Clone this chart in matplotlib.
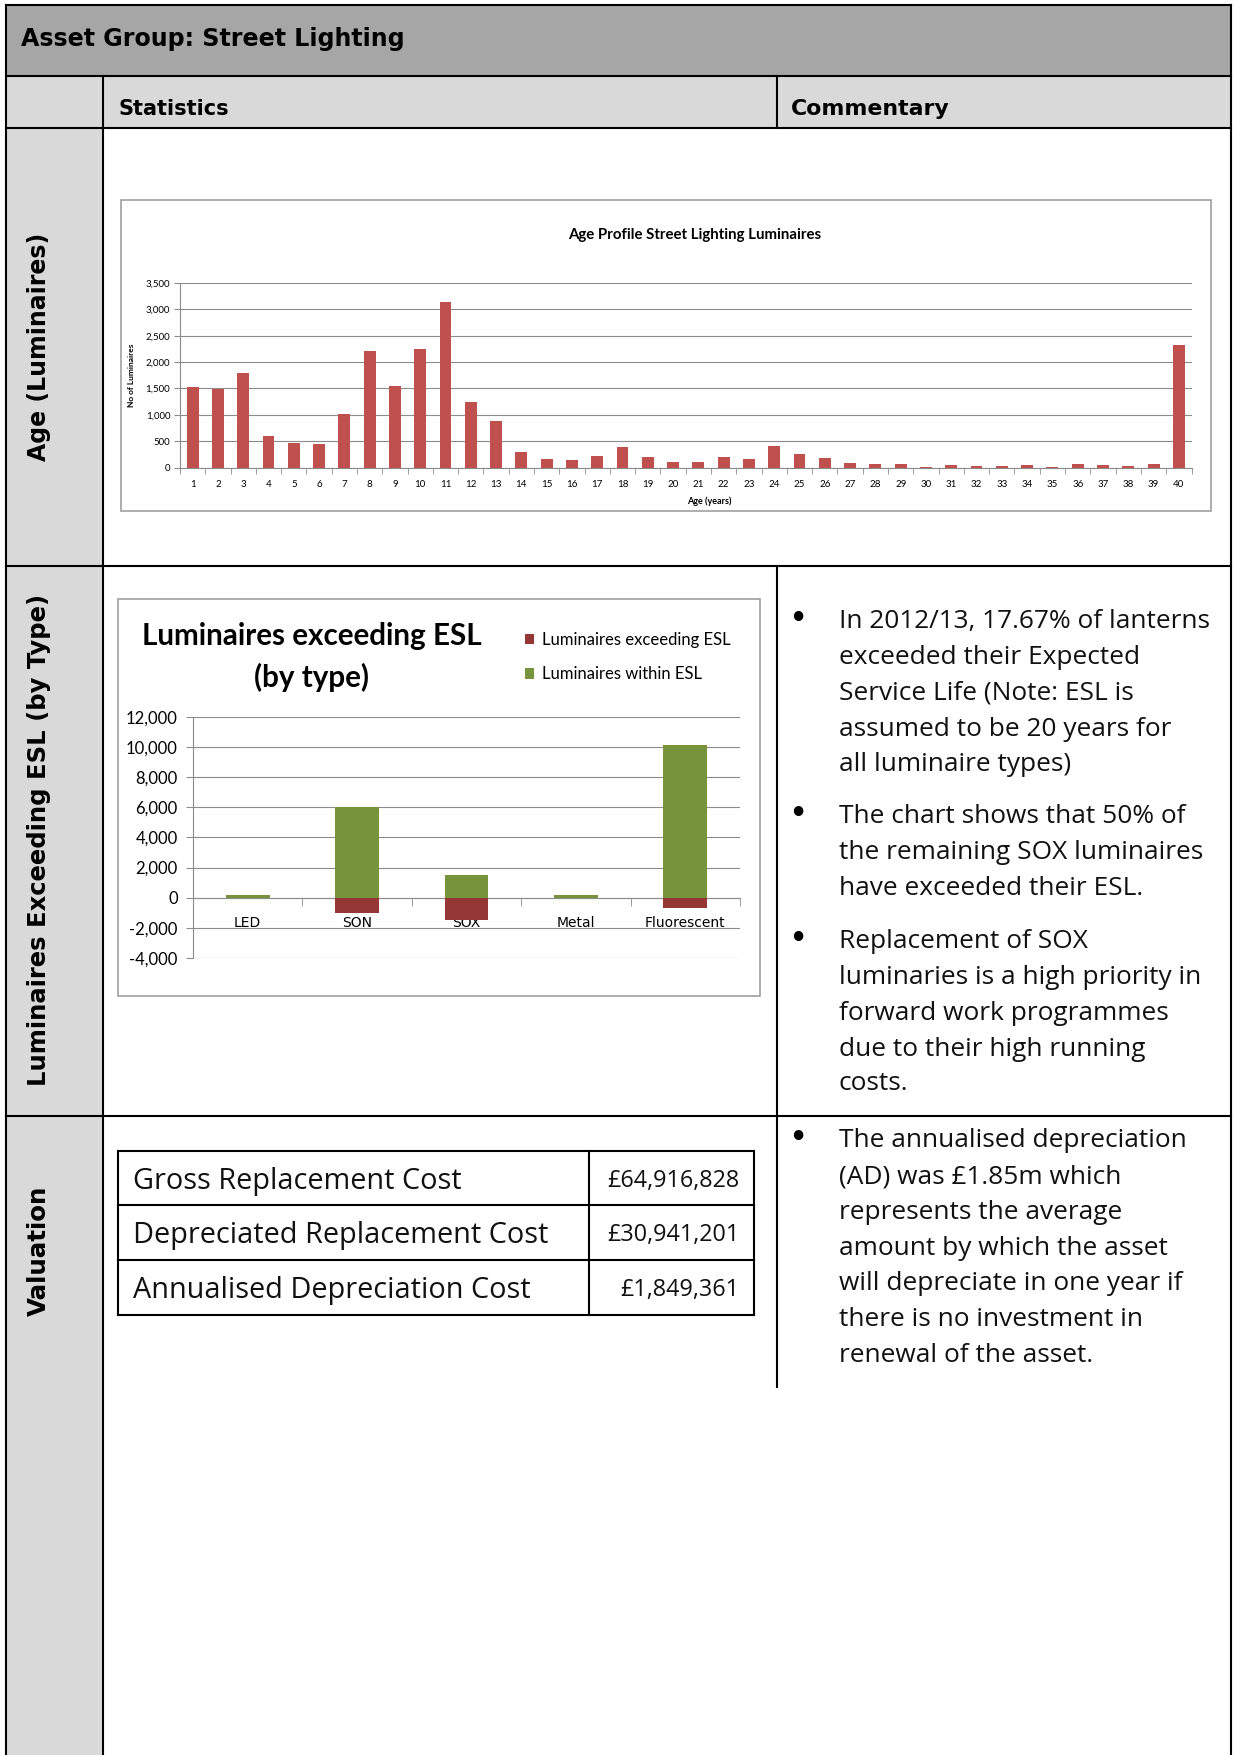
import matplotlib
matplotlib.use('Agg')
import matplotlib.pyplot as plt
from matplotlib.patches import Rectangle
import numpy as np

W, H = 1234, 1755

# ---------------- data ----------------
ages = list(range(1, 41))
age_counts = [1535, 1497, 1800, 607, 474, 455, 1011, 2218, 1554, 2256,
              3146, 1251, 891, 303, 171, 152, 227, 398, 208, 114,
              114, 208, 171, 417, 265, 190, 95, 76, 76, 19,
              57, 38, 38, 57, 19, 76, 57, 38, 76, 2331]
age_yticks = [0, 500, 1000, 1500, 2000, 2500, 3000, 3500]

types = ['LED', 'SON', 'SOX', 'Metal', 'Fluorescent']
within_esl = [200, 6000, 1500, 200, 10100]
exceeding_esl = [0, -1000, -1500, 0, -700]
esl_yticks = [-4000, -2000, 0, 2000, 4000, 6000, 8000, 10000, 12000]

valuation_labels = ['Gross Replacement Cost', 'Depreciated Replacement Cost',
                    'Annualised Depreciation Cost']
valuation_values = ['£64,916,828', '£30,941,201', '£1,849,361']

commentary_esl = [
    ['In 2012/13, 17.67% of lanterns', 'exceeded their Expected',
     'Service Life (Note: ESL is', 'assumed to be 20 years for',
     'all luminaire types)'],
    ['The chart shows that 50% of', 'the remaining SOX luminaires',
     'have exceeded their ESL.'],
    ['Replacement of SOX', 'luminaries is a high priority in',
     'forward work programmes', 'due to their high running', 'costs.'],
]
commentary_val = [
    ['The annualised depreciation', '(AD) was £1.85m which',
     'represents the average', 'amount by which the asset',
     'will depreciate in one year if', 'there is no investment in',
     'renewal of the asset.'],
]

# ---------------- figure ----------------
fig = plt.figure(figsize=(W / 100, H / 100), dpi=100)
fig.patch.set_facecolor('white')
renderer = fig.canvas.get_renderer()


def fit(t, target, vertical=False):
    bb = t.get_window_extent(renderer)
    cur = bb.height if vertical else bb.width
    t.set_fontsize(t.get_fontsize() * target / cur)
    return t.get_fontsize()


def px_rect(x0, y0, x1, y1):
    return [x0 / W, 1 - y1 / H, (x1 - x0) / W, (y1 - y0) / H]


bg = fig.add_axes([0, 0, 1, 1])
bg.set_xlim(0, W)
bg.set_ylim(H, 0)
bg.axis('off')

L, R, T = 5.6, 1230.7, 4.5
HEAD_B, STAT_B = 76, 127.5
COL1, DIV = 103, 776.5
AGE_B, ESL_B, DIV_END = 566, 1115.5, 1387


def rect(x0, y0, x1, y1, **kw):
    bg.add_patch(Rectangle((x0, y0), x1 - x0, y1 - y0, **kw))


def line(x0, y0, x1, y1, color='black', lw=1.5):
    bg.plot([x0, x1], [y0, y1], color=color, lw=lw, solid_capstyle='projecting')


rect(L, T, R, HEAD_B, facecolor='#A6A6A6', edgecolor='none')
rect(L, HEAD_B, R, STAT_B, facecolor='#D9D9D9', edgecolor='none')
rect(L, STAT_B, COL1, H, facecolor='#D9D9D9', edgecolor='none')

line(L, T, R, T)
line(L, T, L, H)
line(R, T, R, H)
line(L, HEAD_B, R, HEAD_B)
line(L, STAT_B, R, STAT_B)
line(COL1, HEAD_B, COL1, H)
line(DIV, HEAD_B, DIV, STAT_B)
line(DIV, AGE_B, DIV, DIV_END)
line(L, AGE_B, R, AGE_B)
line(L, ESL_B, R, ESL_B)

hdr_font = 'DejaVu Sans'
t = bg.text(21, 39, 'Asset Group: Street Lighting', ha='left', va='center',
            fontweight='bold', family=hdr_font, fontsize=14)
fit(t, 386)
t = bg.text(118.6, 109, 'Statistics', ha='left', va='center',
            fontweight='bold', family=hdr_font, fontsize=14)
fit(t, 111)
t = bg.text(791, 109, 'Commentary', ha='left', va='center',
            fontweight='bold', family=hdr_font, fontsize=14)
fit(t, 159)

for label, yc, length in [('Age (Luminaires)', 346.5, 229),
                          ('Luminaires Exceeding ESL (by Type)', 840, 494),
                          ('Valuation', 1251, 131)]:
    t = bg.text(39, yc, label, rotation=90, ha='center', va='center',
                fontweight='bold', family=hdr_font, fontsize=14)
    fit(t, length, vertical=True)

# chart boxes
rect(121, 200, 1211, 511, facecolor='none', edgecolor='#A0A0A0', lw=1.2)
rect(117.5, 598.5, 760, 996, facecolor='none', edgecolor='#A0A0A0', lw=1.2)

chart_font = 'Lato'
grid_c = '#8C8C8C'

# ---------------- Age chart ----------------
ax1 = fig.add_axes(px_rect(180, 283, 1191.5, 467.6))
ax1.set_facecolor('none')
ax1.bar(ages, age_counts, width=0.47, color='#C0504D', zorder=3)
ax1.set_xlim(0.5, 40.5)
ax1.set_ylim(0, 3500)
ax1.set_yticks(age_yticks)
ax1.set_yticklabels([f'{v:,}' for v in age_yticks], family=chart_font, fontsize=7)
ax1.set_xticks(ages)
ax1.set_xticklabels([str(a) for a in ages], family=chart_font, fontsize=7)
ax1.set_xticks(np.arange(0.5, 41, 1), minor=True)
ax1.tick_params(axis='x', which='major', length=0, pad=9)
ax1.tick_params(axis='x', which='minor', length=4, color=grid_c, direction='out')
ax1.tick_params(axis='y', length=4, color=grid_c, pad=3)
ax1.yaxis.grid(True, color=grid_c, lw=0.8)
ax1.set_axisbelow(True)
for s in ['top', 'right']:
    ax1.spines[s].set_visible(False)
for s in ['left', 'bottom']:
    ax1.spines[s].set_color(grid_c)
ax1.set_ylabel('No of Luminaires', family=chart_font, fontweight='bold', fontsize=6)
ax1.yaxis.set_label_coords((132 - 180) / (1191.5 - 180), 0.5)
ax1.yaxis.label.set_va('center')
ax1.set_xlabel('Age (years)', family=chart_font, fontweight='bold', fontsize=6.5)
ax1.xaxis.set_label_coords((709.3 - 180) / (1191.5 - 180), (467.6 - 501) / (467.6 - 283))
ax1.xaxis.label.set_va('center')
t = bg.text(695, 234.5, 'Age Profile Street Lighting Luminaires', ha='center',
            va='center', fontweight='bold', family=chart_font, fontsize=9)
fit(t, 253)

# ---------------- ESL chart ----------------
ax2 = fig.add_axes(px_rect(193, 716.7, 740, 958))
ax2.set_facecolor('none')
x = np.arange(len(types))
h_green = ax2.bar(x, within_esl, 0.4, color='#77933C', zorder=3,
                  label='Luminaires within ESL')
h_red = ax2.bar(x, exceeding_esl, 0.4, color='#953735', zorder=3,
                label='Luminaires exceeding ESL')
ax2.set_xlim(-0.5, len(types) - 0.5)
ax2.set_ylim(-4000, 12000)
ax2.set_yticks(esl_yticks)
ax2.set_yticklabels([f'{v:,}' for v in esl_yticks], family=chart_font, fontsize=12)
ax2.set_xticks(x)
ax2.set_xticklabels(types, family=chart_font, fontsize=12)
ax2.set_xticks(np.arange(-0.5, len(types), 1), minor=True)
ax2.tick_params(axis='x', which='major', length=0, pad=13.5)
ax2.tick_params(axis='x', which='minor', length=6, color=grid_c, direction='out')
ax2.tick_params(axis='y', length=5, color=grid_c, pad=6)
ax2.yaxis.grid(True, color=grid_c, lw=0.8)
ax2.set_axisbelow(True)
ax2.spines['bottom'].set_position(('data', 0))
for s in ['top', 'right']:
    ax2.spines[s].set_visible(False)
for s in ['left', 'bottom']:
    ax2.spines[s].set_color(grid_c)
for lab in ax2.get_xticklabels():
    lab.set_zorder(5)

ax2.legend(handles=[h_red, h_green],
           labels=['Luminaires exceeding ESL', 'Luminaires within ESL'],
           loc='upper left', bbox_to_anchor=(525 / W, 1 - 632 / H),
           bbox_transform=fig.transFigure, frameon=False,
           handlelength=0.55, handleheight=0.6, handletextpad=0.45,
           borderpad=0, borderaxespad=0, labelspacing=1.1,
           prop=dict(family=chart_font, size=12))

t1 = bg.text(312, 636, 'Luminaires exceeding ESL', ha='center', va='center',
             fontweight='bold', family=chart_font, fontsize=18)
fs = fit(t1, 341)
bg.text(312, 677, '(by type)', ha='center', va='center',
        fontweight='bold', family=chart_font, fontsize=fs)

# ---------------- Commentary ----------------
com_font = 'Open Sans'
probe = bg.text(839, 0, commentary_esl[0][0], family=com_font, fontsize=16)
com_fs = fit(probe, 372.6)
probe.remove()

esl_line_y = [[618.7, 654.5, 690.3, 726.1, 761.9],
              [813.4, 849.2, 885.0],
              [938.7, 974.5, 1010.3, 1046.1, 1080.8]]
val_line_y = [[1137.8, 1173.6, 1209.4, 1245.2, 1281.0, 1316.8, 1352.6]]

for blocks, ys in [(commentary_esl, esl_line_y), (commentary_val, val_line_y)]:
    for lines, yl in zip(blocks, ys):
        bg.text(797.7, yl[0] + 1, '•', ha='center', va='center',
                family='DejaVu Sans', fontsize=com_fs * 1.25, color='black')
        for s, yy in zip(lines, yl):
            bg.text(839, yy + 3, s, ha='left', va='center', family=com_font,
                    fontsize=com_fs, color='#111111')

# ---------------- Valuation table ----------------
tx0, tx1, tdiv = 117.5, 754, 588.5
row_y = [1151, 1205, 1260, 1314.6]
for yy in row_y:
    line(tx0, yy, tx1, yy)
line(tx0, row_y[0], tx0, row_y[-1])
line(tx1, row_y[0], tx1, row_y[-1])
line(tdiv, row_y[0], tdiv, row_y[-1])

probe = bg.text(133, 0, valuation_labels[1], family=com_font, fontsize=16)
lab_fs = fit(probe, 415)
probe.remove()
probe = bg.text(133, 0, valuation_values[0], family=com_font, fontsize=14)
val_fs = fit(probe, 133)
probe.remove()
for i, (lab, val) in enumerate(zip(valuation_labels, valuation_values)):
    yc = (row_y[i] + row_y[i + 1]) / 2 + 3
    bg.text(133, yc, lab, ha='left', va='center', family=com_font,
            fontsize=lab_fs, color='#111111')
    bg.text(739.5, yc, val, ha='right', va='center', family=com_font,
            fontsize=val_fs, color='#111111')

fig.savefig('out.png', dpi=100, facecolor='white')
